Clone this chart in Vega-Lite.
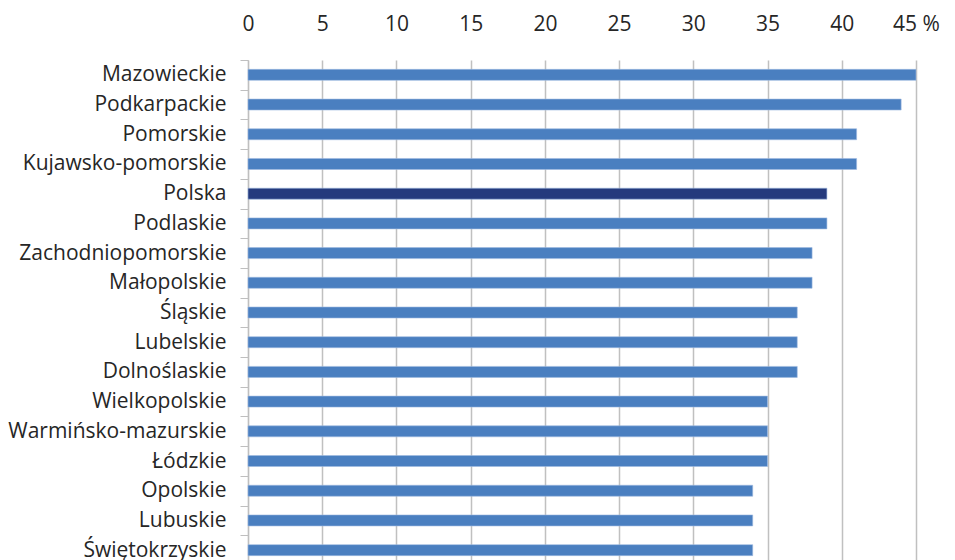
{
  "$schema": "https://vega.github.io/schema/vega-lite/v6.json",
  "width": 668,
  "height": 505,
  "autosize": {"type": "none"},
  "padding": {"left": 248, "top": 60, "right": 39, "bottom": 0},
  "background": "white",
  "config": {
    "view": {"stroke": null},
    "font": "Open Sans",
    "axis": {"labelFont": "Open Sans", "labelFontSize": 21, "labelColor": "#262626", "labelLimit": 300}
  },
  "data": {
    "values": [
      {"region": "Mazowieckie", "value": 45},
      {"region": "Podkarpackie", "value": 44},
      {"region": "Pomorskie", "value": 41},
      {"region": "Kujawsko-pomorskie", "value": 41},
      {"region": "Polska", "value": 39},
      {"region": "Podlaskie", "value": 39},
      {"region": "Zachodniopomorskie", "value": 38},
      {"region": "Małopolskie", "value": 38},
      {"region": "Śląskie", "value": 37},
      {"region": "Lubelskie", "value": 37},
      {"region": "Dolnoślaskie", "value": 37},
      {"region": "Wielkopolskie", "value": 35},
      {"region": "Warmińsko-mazurskie", "value": 35},
      {"region": "Łódzkie", "value": 35},
      {"region": "Opolskie", "value": 34},
      {"region": "Lubuskie", "value": 34},
      {"region": "Świętokrzyskie", "value": 34}
    ]
  },
  "mark": {"type": "bar", "size": 11, "stroke": "#9fbbe0", "strokeWidth": 0.6},
  "encoding": {
    "y": {
      "field": "region",
      "type": "nominal",
      "sort": null,
      "scale": {"paddingInner": 0, "paddingOuter": 0},
      "axis": {
        "title": null,
        "tickBand": "extent",
        "tickSize": 8,
        "tickColor": "#bfbfbf",
        "domainColor": "#bfbfbf",
        "domainWidth": 1.2,
        "labelPadding": 14,
        "grid": false
      }
    },
    "x": {
      "field": "value",
      "type": "quantitative",
      "scale": {"domain": [0, 45], "nice": false, "zero": true},
      "axis": {
        "orient": "top",
        "title": null,
        "values": [0, 5, 10, 15, 20, 25, 30, 35, 40, 45],
        "labelExpr": "datum.value == 45 ? '45 %' : datum.label",
        "grid": true,
        "gridColor": "#c0c0c0",
        "gridWidth": 1.5,
        "domain": false,
        "ticks": false,
        "labelPadding": 26,
        "labelFlush": false,
        "labelOverlap": false,
        "encode": {"labels": {"update": {"dx": {"signal": "datum.value == 45 ? 13 : 0"}}}}
      }
    },
    "color": {
      "condition": {"test": "datum.region == 'Polska'", "value": "#253a7d"},
      "value": "#4a7fc0"
    }
  }
}
